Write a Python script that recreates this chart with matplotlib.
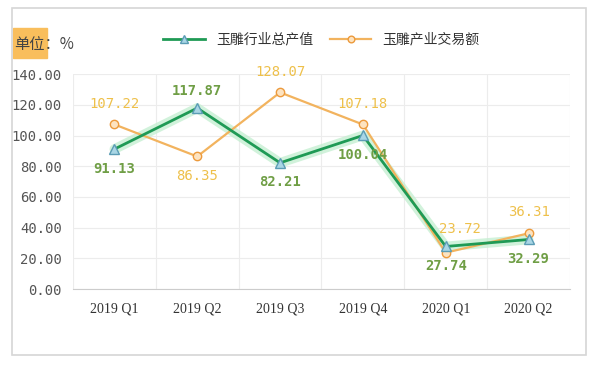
import numpy as np
import matplotlib
matplotlib.use('Agg')
import matplotlib.pyplot as plt
from matplotlib.patches import Rectangle

plt.rcParams['font.family'] = ['Noto Sans CJK SC', 'DejaVu Sans']

# data
quarters = ['2019 Q1', '2019 Q2', '2019 Q3', '2019 Q4', '2020 Q1', '2020 Q2']
output_value = [91.13, 117.87, 82.21, 100.04, 27.74, 32.29]   # 玉雕行业总产值
trade_value = [107.22, 86.35, 128.07, 107.18, 23.72, 36.31]   # 玉雕产业交易额

# label offsets (points) relative to each marker
green_offsets = [(0, -14), (0, 12), (0, -14), (0, -14), (0, -14), (0, -14)]
orange_offsets = [(0, 15), (0, -14), (0, 15), (0, 15), (10, 17), (0, 15)]
yticks = [0, 20, 40, 60, 80, 100, 120, 140]

green = '#1f9a55'
orange = '#f2b35e'

fig = plt.figure(figsize=(6.08, 3.65), dpi=100)
ax = fig.add_axes([0.120, 0.208, 0.8175, 0.589])

# outer frame
fig.patches.append(Rectangle((12 / 608, 1 - 355 / 365), 574 / 608, 347 / 365,
                             transform=fig.transFigure, fill=False,
                             edgecolor='#d6d6d6', linewidth=1.2))

x = np.arange(len(quarters))
# soft glow under the green line
ax.plot(x, output_value, color='#c6efd2', linewidth=7, alpha=0.8,
        solid_capstyle='round', zorder=2)
ax.plot(x, output_value, color=green, linewidth=2, marker='^', markersize=7,
        markerfacecolor='#a9d6e5', markeredgecolor='#5b9cb5', zorder=4,
        label='玉雕行业总产值')
ax.plot(x, trade_value, color=orange, linewidth=1.6, marker='o', markersize=6,
        markerfacecolor='#fde3c0', markeredgecolor='#ec9a3c', zorder=3,
        label='玉雕产业交易额')

for xi, v, off in zip(x, output_value, green_offsets):
    ax.annotate(f'{v:.2f}', (xi, v), xytext=off, textcoords='offset points',
                ha='center', va='center', color='#6f9e45', fontsize=10,
                fontweight='bold', family='DejaVu Sans Mono', zorder=5)
for xi, v, off in zip(x, trade_value, orange_offsets):
    ax.annotate(f'{v:.2f}', (xi, v), xytext=off, textcoords='offset points',
                ha='center', va='center', color='#eec04a', fontsize=10,
                family='DejaVu Sans Mono', zorder=5)

ax.set_xlim(-0.5, len(quarters) - 0.5)
ax.set_ylim(0, 140)
ax.set_yticks(yticks)
ax.set_yticklabels([f'{t:.2f}' for t in yticks], family='DejaVu Sans Mono',
                   fontsize=10, color='#555555')
ax.set_xticks(x)
ax.set_xticklabels(quarters, family='Liberation Serif', fontsize=10, color='#333333')
ax.set_xticks(np.arange(len(quarters) + 1) - 0.5, minor=True)
ax.grid(True, which='minor', axis='x', color='#ececec', linewidth=0.8)
ax.grid(True, which='major', axis='y', color='#ececec', linewidth=0.8)
ax.tick_params(which='both', length=0)
ax.tick_params(axis='x', pad=10)
ax.tick_params(axis='y', pad=8)
for s in ['top', 'right', 'left']:
    ax.spines[s].set_visible(False)
ax.spines['bottom'].set_color('#cccccc')

ax.legend(loc='lower center', bbox_to_anchor=(0.5, 1.07), ncol=2, frameon=False,
          fontsize=10, handlelength=3, columnspacing=1.2, labelcolor='#333333',
          markerscale=0.8)

# unit label with highlighted background
fig.patches.append(Rectangle((13 / 608, 1 - 58 / 365), 34 / 608, 30 / 365,
                             transform=fig.transFigure, color='#f9be5c', zorder=0))
fig.text(14 / 608, 1 - 44 / 365, '单位：%', fontsize=11, color='#444444', va='center')

fig.savefig('out.png', dpi=100, facecolor='white')
